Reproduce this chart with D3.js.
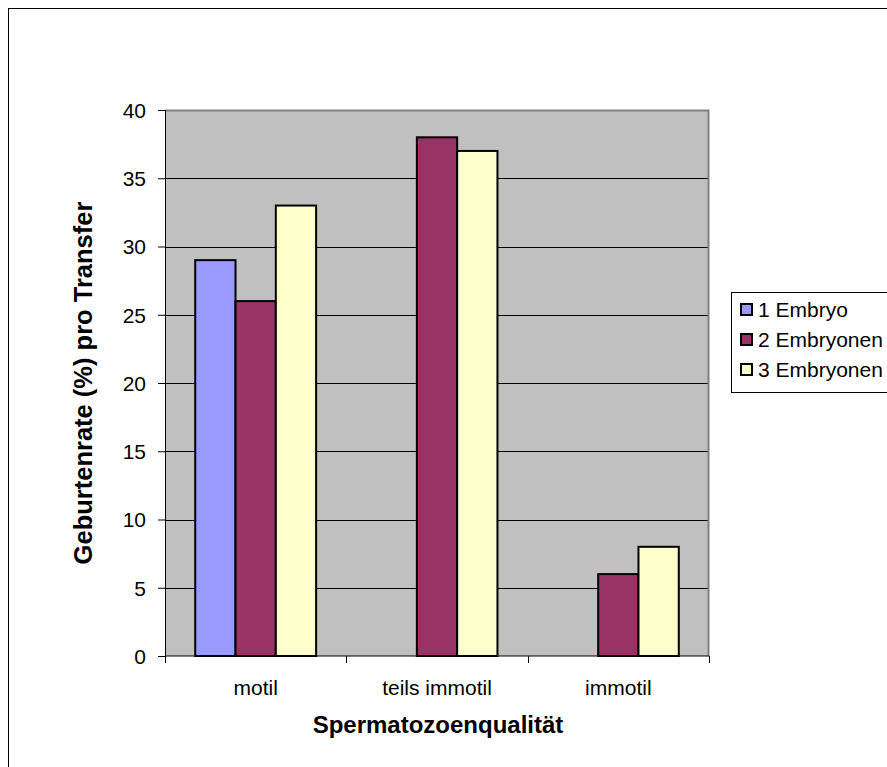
<!DOCTYPE html>
<html>
<head>
<meta charset="utf-8">
<script src="https://cdn.jsdelivr.net/npm/d3@7"></script>
<style>
  html, body { margin: 0; padding: 0; background: #fff; }
  svg { display: block; font-family: Arial, "Liberation Sans", sans-serif; }
</style>
</head>
<body>
<svg id="chart" width="887" height="767"></svg>
<script>
// Birth rate per transfer by sperm quality and number of embryos
const categories = ["motil", "teils immotil", "immotil"];
const seriesNames = ["1 Embryo", "2 Embryonen", "3 Embryonen"];
const oneEmbryo = [29, 0, 0];
const twoEmbryos = [26, 38, 6];
const threeEmbryos = [33, 37, 8];
const seriesColors = ["#9999FF", "#993366", "#FFFFCC"];
const yTicks = [0, 5, 10, 15, 20, 25, 30, 35, 40];

const seriesValues = [oneEmbryo, twoEmbryos, threeEmbryos];
const FONT = "Arial, 'Liberation Sans', sans-serif";
const LABEL_SIZE = 21;

const svg = d3.select("#chart");

// outer chart frame
svg.append("rect")
  .attr("x", 8.5).attr("y", 8.5)
  .attr("width", 1000).attr("height", 1000)
  .attr("fill", "none").attr("stroke", "#000").attr("stroke-width", 1);

const plot = { left: 165, top: 110, right: 709, bottom: 656 };

const x = d3.scaleBand().domain(categories).range([plot.left, plot.right]).paddingInner(0).paddingOuter(0);
const xSeries = d3.scaleBand().domain(seriesNames)
  .range([0, x.bandwidth()]).paddingInner(0).paddingOuter(0.75);
const y = d3.scaleLinear().domain([0, 40]).range([plot.bottom, plot.top]);

// plot background
svg.append("rect")
  .attr("x", plot.left).attr("y", plot.top)
  .attr("width", plot.right - plot.left).attr("height", plot.bottom - plot.top)
  .attr("fill", "#C0C0C0");

// gridlines
svg.append("g").selectAll("line")
  .data(yTicks.filter(t => t > 0 && t < 40))
  .join("line")
  .attr("x1", plot.left).attr("x2", plot.right)
  .attr("y1", d => Math.round(y(d)) + 0.5).attr("y2", d => Math.round(y(d)) + 0.5)
  .attr("stroke", "#000").attr("stroke-width", 1);

// top and right frame of the plot area
svg.append("path")
  .attr("d", `M${plot.left},${plot.top + 0.5} H${plot.right - 0.5} V${plot.bottom}`)
  .attr("fill", "none").attr("stroke", "#808080").attr("stroke-width", 2);

// bars
const groups = svg.append("g").selectAll("g")
  .data(seriesNames)
  .join("g")
  .attr("fill", (d, i) => seriesColors[i]);

groups.selectAll("rect")
  .data((name, si) => categories.map((c, ci) => ({ c, name, v: seriesValues[si][ci] })).filter(d => d.v > 0))
  .join("rect")
  .attr("x", d => x(d.c) + xSeries(d.name))
  .attr("y", d => y(d.v))
  .attr("width", xSeries.bandwidth())
  .attr("height", d => y(0) - y(d.v))
  .attr("stroke", "#000").attr("stroke-width", 2);

// y axis
const yAxis = svg.append("g")
  .attr("transform", `translate(${plot.left},0)`)
  .call(d3.axisLeft(y).tickValues(yTicks).tickSize(7).tickPadding(12));
yAxis.select(".domain").attr("stroke", "#000");
yAxis.selectAll(".tick line").attr("stroke", "#000");
yAxis.attr("font-size", LABEL_SIZE).attr("font-family", FONT);
yAxis.selectAll("text").attr("fill", "#000").attr("dy", "0.35em");

// x axis with ticks between categories
const xAxisG = svg.append("g").attr("transform", `translate(0,${plot.bottom})`);
xAxisG.append("line")
  .attr("x1", plot.left).attr("x2", plot.right)
  .attr("stroke", "#000");
const boundaries = categories.map(c => x(c)).concat([plot.right]);
xAxisG.selectAll("line.tick")
  .data(boundaries)
  .join("line").attr("class", "tick")
  .attr("x1", d => Math.round(d) + 0.5).attr("x2", d => Math.round(d) + 0.5)
  .attr("y1", 0).attr("y2", 7)
  .attr("stroke", "#000");
xAxisG.selectAll("text")
  .data(categories)
  .join("text")
  .attr("x", d => x(d) + x.bandwidth() / 2)
  .attr("y", 39)
  .attr("text-anchor", "middle")
  .attr("font-size", LABEL_SIZE)
  .text(d => d);

// axis titles
svg.append("text")
  .attr("x", (plot.left + plot.right) / 2 + 1).attr("y", 733)
  .attr("text-anchor", "middle")
  .attr("font-size", 24).attr("font-weight", "bold")
  .text("Spermatozoenqualität");

svg.append("text")
  .attr("transform", `translate(92,383) rotate(-90)`)
  .attr("text-anchor", "middle")
  .attr("font-size", 25.5).attr("font-weight", "bold")
  .text("Geburtenrate (%) pro Transfer");

// legend
const legend = svg.append("g");
legend.append("rect")
  .attr("x", 731.5).attr("y", 292.5)
  .attr("width", 200).attr("height", 100)
  .attr("fill", "#fff").attr("stroke", "#000");
const items = legend.selectAll("g.item")
  .data(seriesNames)
  .join("g").attr("class", "item")
  .attr("transform", (d, i) => `translate(0,${317 + i * 30})`);
items.append("rect")
  .attr("x", 741).attr("y", -13)
  .attr("width", 11).attr("height", 11)
  .attr("fill", (d, i) => seriesColors[i])
  .attr("stroke", "#000").attr("stroke-width", 2);
items.append("text")
  .attr("x", 758).attr("y", 0)
  .attr("font-size", LABEL_SIZE)
  .text(d => d);
</script>
</body>
</html>
